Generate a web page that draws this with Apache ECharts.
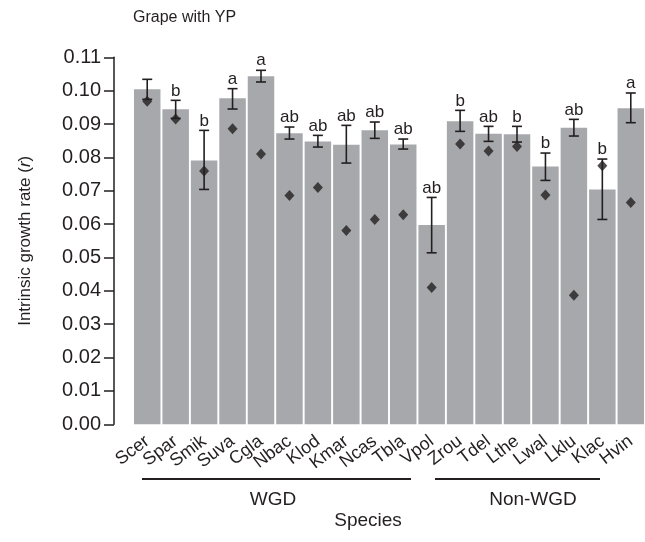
<!DOCTYPE html>
<html>
<head>
<meta charset="utf-8">
<script src="https://cdn.jsdelivr.net/npm/echarts@6/dist/echarts.min.js"></script>
<style>
  html, body { margin: 0; padding: 0; background: #fff; }
  #main { width: 645px; height: 542px; }
</style>
</head>
<body>
<div id="main"></div>
<script>
// species order as in the figure
var species = ['Scer', 'Spar', 'Smik', 'Suva', 'Cgla', 'Nbac', 'Klod', 'Kmar', 'Ncas', 'Tbla', 'Vpol',
  'Zrou', 'Tdel', 'Lthe', 'Lwal', 'Lklu', 'Klac', 'Hvin'];
// bar height = mean growth rate
var growth = [0.1004, 0.0944, 0.0791, 0.0977, 0.1043, 0.0872, 0.0848, 0.0838, 0.0881, 0.0839, 0.0597,
  0.0908, 0.0871, 0.0869, 0.0773, 0.0889, 0.0704, 0.0947];
var errLow = [0.0974, 0.0917, 0.0704, 0.0945, 0.1026, 0.0855, 0.0831, 0.0783, 0.0857, 0.0825, 0.0514,
  0.0878, 0.0848, 0.0846, 0.0731, 0.0864, 0.0614, 0.0904];
var errHigh = [0.1034, 0.0971, 0.0881, 0.1006, 0.1061, 0.0891, 0.0866, 0.0896, 0.0906, 0.0855, 0.0680,
  0.0941, 0.0893, 0.0893, 0.0813, 0.0914, 0.0795, 0.0993];
// black diamonds
var diamonds = [0.0968, 0.0915, 0.0759, 0.0886, 0.0810, 0.0686, 0.0710, 0.0581, 0.0614, 0.0628, 0.0410,
  0.0840, 0.0819, 0.0833, 0.0687, 0.0387, 0.0775, 0.0665];
// significance letters
var letters = ['', 'b', 'b', 'a', 'a', 'ab', 'ab', 'ab', 'ab', 'ab', 'ab',
  'b', 'ab', 'b', 'b', 'ab', 'b', 'a'];

var FONT = '"Liberation Sans", Arial, Helvetica, sans-serif';
var INK = '#231f20';

var errData = species.map(function (s, i) {
  return [i, errLow[i], errHigh[i], letters[i]];
});

var chart = echarts.init(document.getElementById('main'));

var option = {
  backgroundColor: '#fff',
  animation: false,
  textStyle: { fontFamily: FONT },
  grid: { left: 133, width: 515, top: 57.3, bottom: 117.7, containLabel: false },
  xAxis: {
    type: 'category',
    data: species,
    axisLine: { show: false },
    axisTick: { show: false },
    axisLabel: {
      rotate: 37, fontSize: 18, color: INK, margin: 15, interval: 0, fontFamily: FONT
    }
  },
  yAxis: {
    type: 'value',
    min: 0, max: 0.11, interval: 0.01,
    offset: 19,
    name: '{n|Intrinsic growth rate (}{i|r}{n|)}',
    nameLocation: 'middle',
    nameGap: 80,
    nameRotate: 90,
    nameTextStyle: {
      rich: {
        n: { fontSize: 17, color: INK, fontFamily: FONT },
        i: { fontSize: 17, color: INK, fontStyle: 'italic', fontFamily: FONT }
      }
    },
    axisLine: { show: true, lineStyle: { color: INK, width: 1.5 } },
    axisTick: { show: true, length: 10, lineStyle: { color: INK, width: 1.5 } },
    axisLabel: {
      fontSize: 20, color: INK, margin: 13, fontFamily: FONT,
      formatter: function (v) { return v.toFixed(2); }
    },
    splitLine: { show: false }
  },
  series: [
    {
      type: 'bar',
      data: growth,
      barWidth: 26.5,
      itemStyle: { color: '#a7a8ab' },
      z: 1
    },
    {
      type: 'custom',
      data: errData,
      encode: { x: 0, y: [1, 2] },
      z: 3,
      renderItem: function (params, api) {
        var x = api.value(0);
        var lo = api.coord([x, api.value(1)]);
        var hi = api.coord([x, api.value(2)]);
        var cap = 5;
        var style = { stroke: INK, lineWidth: 1.6 };
        return {
          type: 'group',
          children: [
            { type: 'line', shape: { x1: lo[0], y1: lo[1], x2: hi[0], y2: hi[1] }, style: style },
            { type: 'line', shape: { x1: lo[0] - cap, y1: lo[1], x2: lo[0] + cap, y2: lo[1] }, style: style },
            { type: 'line', shape: { x1: hi[0] - cap, y1: hi[1], x2: hi[0] + cap, y2: hi[1] }, style: style },
            {
              type: 'text',
              style: {
                text: api.value(3), x: hi[0], y: hi[1] - 1,
                textAlign: 'center', textVerticalAlign: 'bottom',
                fontSize: 17, fontFamily: FONT, fill: INK
              }
            }
          ]
        };
      }
    },
    {
      type: 'scatter',
      data: diamonds,
      symbol: 'diamond',
      symbolSize: [10, 11],
      itemStyle: { color: INK },
      z: 4
    }
  ],
  graphic: [
    { type: 'text', left: 133, top: 10,
      style: { text: 'Grape with YP', fontSize: 16, fontFamily: FONT, fill: INK } },
    { type: 'line', shape: { x1: 142, y1: 479, x2: 411, y2: 479 },
      style: { stroke: INK, lineWidth: 2 } },
    { type: 'line', shape: { x1: 435, y1: 479, x2: 600, y2: 479 },
      style: { stroke: INK, lineWidth: 2 } },
    { type: 'text', x: 273, y: 500,
      style: { text: 'WGD', fontSize: 19, fontFamily: FONT, fill: INK, textAlign: 'center', textVerticalAlign: 'middle' } },
    { type: 'text', x: 533, y: 500,
      style: { text: 'Non-WGD', fontSize: 19, fontFamily: FONT, fill: INK, textAlign: 'center', textVerticalAlign: 'middle' } },
    { type: 'text', x: 368, y: 521,
      style: { text: 'Species', fontSize: 19, fontFamily: FONT, fill: INK, textAlign: 'center', textVerticalAlign: 'middle' } }
  ]
};

chart.setOption(option);
</script>
</body>
</html>
